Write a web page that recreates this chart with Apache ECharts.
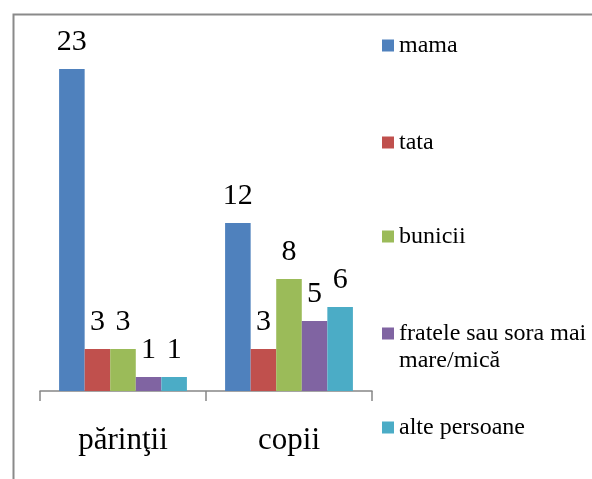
<!DOCTYPE html>
<html>
<head>
<meta charset="utf-8">
<script src="https://cdn.jsdelivr.net/npm/echarts@6/dist/echarts.min.js"></script>
<style>
  html, body { margin: 0; padding: 0; background: #fff; }
  #chart { width: 592px; height: 479px; }
</style>
</head>
<body>
<div id="chart"></div>
<script>
const categories = ["părinţii", "copii"]
const seriesNames = ["mama", "tata", "bunicii", "fratele sau sora mai mare/mică", "alte persoane"]
const mama = [23, 12]
const tata = [3, 3]
const bunicii = [3, 8]
const fratele = [1, 5]
const alte = [1, 6]
const values = [mama, tata, bunicii, fratele, alte]

const colors = ["#4F81BD", "#C0504D", "#9BBB59", "#8064A2", "#4BACC6"]
const serif = "'Liberation Serif', 'Times New Roman', serif"
const legendTops = [32, 129, 223, 320, 414]

const chart = echarts.init(document.getElementById("chart"))

const legends = seriesNames.map((name, i) => {
  const twoLine = i === 3
  return {
    orient: "vertical",
    left: 382,
    top: legendTops[i],
    padding: 0,
    itemWidth: 12,
    itemHeight: twoLine ? 54 : 12,
    icon: twoLine
      ? "path://M0,0L0.01,0L0.01,0.01Z M0,7.5L12,7.5L12,19.5L0,19.5Z M0,54L0.01,54L0.01,53.99Z"
      : "rect",
    data: [name],
    formatter: n => (twoLine ? "fratele sau sora mai\nmare/mică" : n),
    textStyle: {
      fontFamily: serif,
      fontSize: 24,
      color: "#000",
      lineHeight: 27
    }
  }
})

const option = {
  animation: false,
  graphic: [
    {
      type: "rect",
      left: 11,
      top: 12,
      shape: { width: 620, height: 520 },
      style: { fill: "none", stroke: "#8a8a8a", lineWidth: 2 }
    }
  ],
  legend: legends,
  grid: {
    left: 40,
    right: 220,
    top: 41,
    bottom: 88
  },
  xAxis: {
    type: "category",
    data: categories,
    axisLine: { lineStyle: { color: "#868686", width: 1.5 } },
    axisTick: { show: true, length: 10, lineStyle: { color: "#868686", width: 1.5 } },
    axisLabel: {
      fontFamily: serif,
      fontSize: 31,
      color: "#000",
      margin: 34
    }
  },
  yAxis: {
    type: "value",
    min: 0,
    max: 25,
    show: false
  },
  series: seriesNames.map((name, i) => ({
    name: name,
    type: "bar",
    data: values[i],
    barGap: "0%",
    barCategoryGap: "23%",
    itemStyle: { color: colors[i] },
    label: {
      show: true,
      position: "top",
      distance: 12,
      fontFamily: serif,
      fontSize: 30,
      color: "#000"
    }
  }))
}

chart.setOption(option)
</script>
</body>
</html>
